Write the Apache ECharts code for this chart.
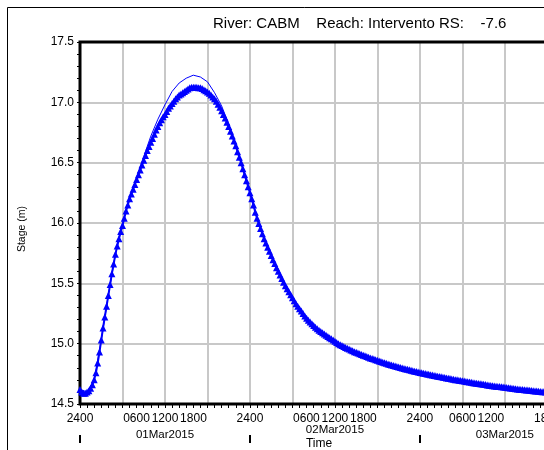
<!DOCTYPE html>
<html>
<head>
<meta charset="utf-8">
<script src="https://cdn.jsdelivr.net/npm/echarts@6/dist/echarts.min.js"></script>
<style>
html,body{margin:0;padding:0;background:#fff;overflow:hidden;width:544px;height:450px;}
#chart{width:600px;height:450px;}
</style>
</head>
<body>
<div id="chart"></div>
<script>
// ---------------- DATA ----------------
const chartTitle = 'River: CABM    Reach: Intervento RS:    -7.6';
const yAxisTitle = 'Stage (m)';
const xAxisTitle = 'Time';
// hours after 01Mar2015 0000 (shown as 2400 of previous day)
const timeTickLabels = ['2400','0600','1200','1800','2400','0600','1200','1800','2400','0600','1200','1800'];
const dateLabels = ['01Mar2015','02Mar2015','03Mar2015'];
const dateLabelHours = [12, 36, 60];
const dayBoundaryHours = [0, 24, 48];
const yTickLabels = ['14.5','15.0','15.5','16.0','16.5','17.0','17.5'];

// Stage with triangle markers: one row per hour, 15-minute samples
const sampleStepHours = 0.25;
const stageMarked = [
  [14.62, 14.60, 14.59, 14.59],
  [14.60, 14.61, 14.63, 14.66],
  [14.70, 14.76, 14.84, 14.93],
  [15.03, 15.13, 15.22, 15.31],
  [15.40, 15.49, 15.58, 15.66],
  [15.74, 15.81, 15.87, 15.93],
  [15.98, 16.04, 16.10, 16.15],
  [16.20, 16.24, 16.28, 16.32],
  [16.36, 16.40, 16.44, 16.48],
  [16.52, 16.56, 16.60, 16.635],
  [16.67, 16.70, 16.735, 16.77],
  [16.80, 16.83, 16.855, 16.88],
  [16.90, 16.925, 16.95, 16.97],
  [16.99, 17.01, 17.03, 17.045],
  [17.06, 17.07, 17.08, 17.09],
  [17.10, 17.11, 17.12, 17.125],
  [17.125, 17.125, 17.125, 17.12],
  [17.12, 17.115, 17.105, 17.095],
  [17.085, 17.075, 17.06, 17.045],
  [17.03, 17.01, 16.985, 16.96],
  [16.93, 16.90, 16.87, 16.835],
  [16.80, 16.76, 16.72, 16.68],
  [16.64, 16.59, 16.545, 16.50],
  [16.45, 16.40, 16.35, 16.30],
  [16.25, 16.20, 16.15, 16.09],
  [16.04, 15.995, 15.955, 15.91],
  [15.87, 15.835, 15.80, 15.765],
  [15.73, 15.695, 15.665, 15.63],
  [15.60, 15.57, 15.54, 15.51],
  [15.48, 15.455, 15.43, 15.405],
  [15.38, 15.355, 15.33, 15.31],
  [15.29, 15.27, 15.25, 15.23],
  [15.21, 15.195, 15.18, 15.165],
  [15.15, 15.137, 15.124, 15.112],
  [15.10, 15.09, 15.08, 15.07],
  [15.06, 15.05, 15.04, 15.03],
  [15.02, 15.01, 15.00, 14.99],
  [14.985, 14.977, 14.969, 14.961],
  [14.955, 14.948, 14.941, 14.934],
  [14.928, 14.922, 14.916, 14.91],
  [14.905, 14.899, 14.893, 14.887],
  [14.882, 14.877, 14.872, 14.867],
  [14.862, 14.857, 14.852, 14.847],
  [14.842, 14.837, 14.832, 14.827],
  [14.823, 14.819, 14.815, 14.811],
  [14.807, 14.803, 14.799, 14.795],
  [14.791, 14.787, 14.783, 14.779],
  [14.776, 14.772, 14.769, 14.765],
  [14.762, 14.758, 14.755, 14.752],
  [14.749, 14.746, 14.743, 14.74],
  [14.737, 14.734, 14.731, 14.728],
  [14.725, 14.722, 14.719, 14.716],
  [14.713, 14.711, 14.708, 14.705],
  [14.702, 14.70, 14.697, 14.695],
  [14.692, 14.69, 14.687, 14.685],
  [14.682, 14.68, 14.677, 14.675],
  [14.672, 14.67, 14.668, 14.665],
  [14.663, 14.661, 14.658, 14.656],
  [14.654, 14.652, 14.65, 14.648],
  [14.646, 14.644, 14.642, 14.64],
  [14.638, 14.636, 14.634, 14.632],
  [14.63, 14.628, 14.627, 14.625],
  [14.623, 14.621, 14.62, 14.618],
  [14.616, 14.615, 14.613, 14.611],
  [14.61, 14.608, 14.607, 14.605],
  [14.604, 14.602, 14.601, 14.60],
  [14.598, 14.597, 14.596, 14.594],
  [14.593, 14.592, 14.591, 14.59],
  [14.589]
];

// Thin line (no markers), hourly samples
const thinHours = [0,1,2,3,4,5,6,7,8,9,10,11,12,13,14,15,16,17,18,19,20,21,22,23,24,25,26,27,28,29,30,31,32,33,34,35,36,37,38,39,40,41,42,43,44,45,46,47,48,49,50,51,52,53,54,55,56,57,58,59,60,61,62,63,64,65,66,67,68];
const stageThin = [14.62,14.60,14.70,15.03,15.40,15.74,15.99,16.21,16.38,16.55,16.72,16.86,16.98,17.09,17.16,17.20,17.225,17.21,17.17,17.08,16.97,16.82,16.65,16.45,16.25,16.04,15.87,15.73,15.60,15.48,15.38,15.29,15.21,15.15,15.10,15.06,15.02,14.985,14.955,14.928,14.905,14.882,14.862,14.842,14.823,14.807,14.791,14.776,14.762,14.749,14.737,14.725,14.713,14.702,14.692,14.682,14.672,14.663,14.654,14.646,14.638,14.63,14.623,14.616,14.61,14.604,14.598,14.593,14.589];

// ---------------- LAYOUT / STYLE ----------------
const FONT = 'Liberation Sans, Arial, sans-serif';
const tickLabelShift = ['c','l','c','r','c','l','c','r','c','c','r','c'];
const dateLabelStyle = ['lo','hi','lo'];

const markedData = [];
stageMarked.forEach((row, h) => row.forEach((v, k) => markedData.push([h + k * sampleStepHours, v])));
const thinData = thinHours.map((t, i) => [t, stageThin[i]]);

const baseTxt = {fontSize: 12, fontFamily: FONT, color: '#000'};
const dateTxt = {fontSize: 11.5, fontFamily: FONT, color: '#000'};
const chart = echarts.init(document.getElementById('chart'), null, {renderer: 'canvas'});
chart.setOption({
  animation: false,
  backgroundColor: '#fff',
  title: {
    text: chartTitle, left: 213, top: 16, padding: 0,
    textStyle: {fontSize: 15, fontWeight: 'normal', fontFamily: FONT, color: '#000'}
  },
  graphic: [{
    type: 'rect', shape: {x: 7.5, y: 7.5, width: 700, height: 700},
    style: {fill: 'none', stroke: '#000', lineWidth: 1}, silent: true, z: 0
  }],
  grid: {left: 80, top: 42, right: 42, bottom: 46, outerBoundsMode: 'none', containLabel: false,
         show: true, borderColor: '#000', borderWidth: 3, backgroundColor: 'transparent', z: 3},
  xAxis: [{
    type: 'value', min: 0, max: 67.5, interval: 6,
    name: xAxisTitle, nameLocation: 'middle', nameGap: 34,
    nameTextStyle: baseTxt,
    axisLine: {show: false},
    axisTick: {show: true, length: 4, lineStyle: {color: '#000', width: 1}},
    minorTick: {show: true, splitNumber: 6, length: 4, lineStyle: {color: '#000', width: 1}},
    splitLine: {show: true, lineStyle: {color: '#c8c8c8', width: 2}},
    axisLabel: {
      margin: 9, ...baseTxt,
      formatter: function (v) {
        const i = Math.round(v / 6);
        if (Math.abs(v - i * 6) > 1e-6 || !timeTickLabels[i]) return '';
        return '{' + tickLabelShift[i] + '|' + timeTickLabels[i] + '}';
      },
      rich: {
        c: {...baseTxt},
        l: {...baseTxt, padding: [0, 0, 0, 28]},
        r: {...baseTxt, padding: [0, 28, 0, 0]}
      }
    }
  }, {
    type: 'value', min: 0, max: 67.5, position: 'bottom', offset: 39,
    axisLine: {show: false},
    splitLine: {show: false},
    axisTick: {show: true, inside: true, length: 8, customValues: dayBoundaryHours, lineStyle: {color: '#000', width: 2}},
    axisLabel: {
      show: true, customValues: dateLabelHours, margin: -19,
      ...dateTxt,
      formatter: function (v) {
        const i = dateLabelHours.indexOf(Math.round(v));
        if (i < 0) return '';
        return '{' + dateLabelStyle[i] + '|' + dateLabels[i] + '}';
      },
      rich: {
        hi: {...dateTxt},
        lo: {...dateTxt, padding: [5, 0, 0, 0]}
      }
    }
  }],
  yAxis: {
    type: 'value', min: 14.5, max: 17.5, interval: 0.5,
    name: yAxisTitle, nameLocation: 'middle', nameGap: 52, nameRotate: 90,
    nameTextStyle: {fontSize: 10.5, fontFamily: FONT, color: '#000', padding: [0, 12, 0, 0]},
    axisLine: {show: false},
    axisTick: {show: true, length: 3, lineStyle: {color: '#000'}},
    minorTick: {show: true, splitNumber: 5, length: 3, lineStyle: {color: '#000'}},
    splitLine: {show: true, lineStyle: {color: '#c8c8c8', width: 2}},
    axisLabel: {
      margin: 6, ...baseTxt,
      formatter: function (v) { return yTickLabels[Math.round((v - 14.5) / 0.5)] || ''; }
    }
  },
  series: [{
    type: 'line', data: thinData, xAxisIndex: 0,
    symbol: 'none', lineStyle: {color: '#0000ff', width: 1}, z: 4
  }, {
    type: 'line', data: markedData, xAxisIndex: 0,
    symbol: 'triangle', symbolSize: 7, showAllSymbol: true,
    itemStyle: {color: '#0000ff', borderWidth: 0},
    lineStyle: {color: '#0000ff', width: 2}, z: 5
  }]
});
</script>
</body>
</html>
